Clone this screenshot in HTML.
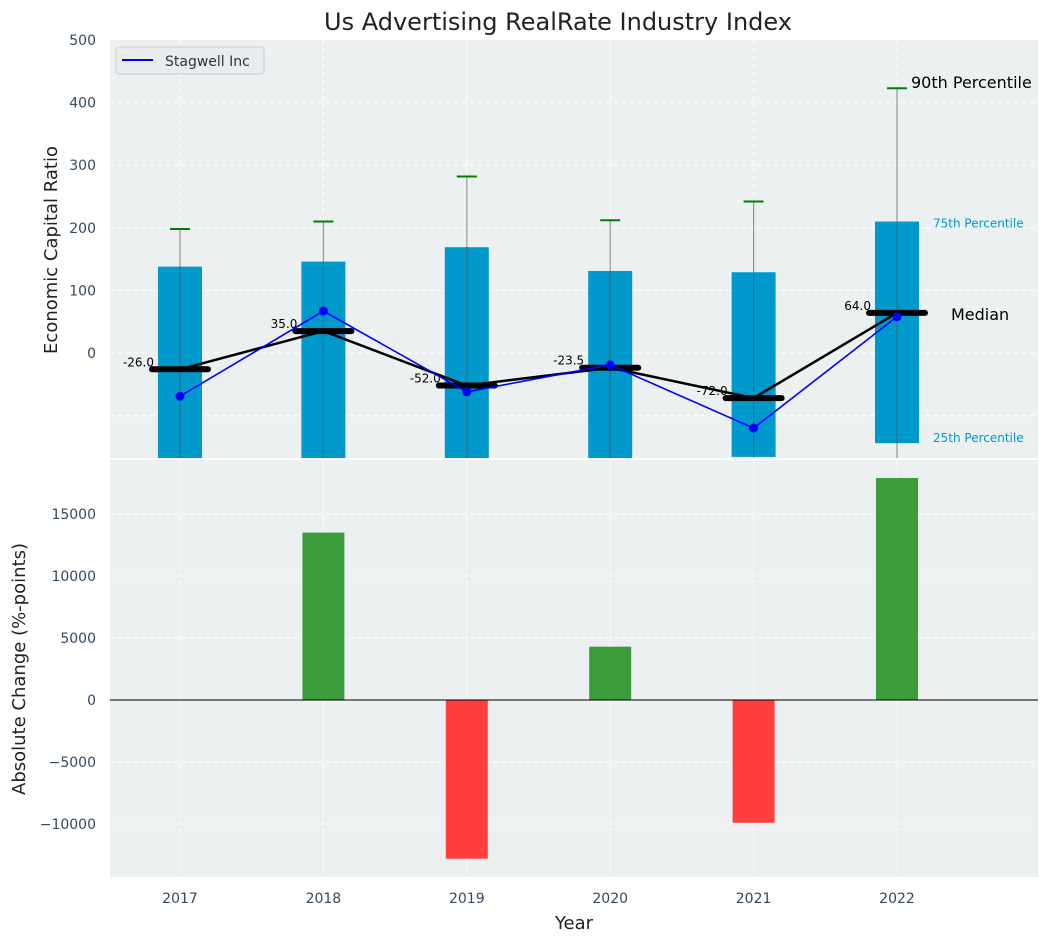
<!DOCTYPE html>
<html><head><meta charset="utf-8"><style>
body{margin:0;background:#fff;}
svg text{font-family:"DejaVu Sans","Liberation Sans",sans-serif;}
</style></head><body>
<svg id="chart" width="1048" height="942" xmlns="http://www.w3.org/2000/svg">
<text x="558" y="30" font-size="24" text-anchor="middle" fill="#222">Us Advertising RealRate Industry Index</text>
<g id="topg"></g>
<g id="botg"></g>
</svg>
<script>
const years = [2017, 2018, 2019, 2020, 2021, 2022];
const p25 = [-200, -200, -200, -200, -166, -144];
const p75 = [138, 146, 169, 131, 129, 210];
const p90 = [198, 210, 282, 212, 242, 423];
const p10 = [-250, -250, -250, -250, -250, -250];
const medians = [-26.0, 35.0, -52.0, -23.5, -72.0, 64.0];
const company = [-69, 67, -62, -19, -120, 58];
const changes = [0, 13500, -12800, 4300, -9900, 17900];
const topTicks = [0, 100, 200, 300, 400, 500];
const botTicks = [-10000, -5000, 0, 5000, 10000, 15000];

const NS = 'http://www.w3.org/2000/svg';
const L = 110, R = 1038;
const xs = v => 180 + (v - 2017) * 143.4;
const yT = v => 353 - v * 0.626;
const yB = v => 700 - v * 0.01240;
function mk(parent, tag, attrs, text) {
  const e = document.createElementNS(NS, tag);
  for (const k in attrs) e.setAttribute(k, attrs[k]);
  if (text !== undefined) e.textContent = text;
  parent.appendChild(e); return e;
}
const topG = document.getElementById('topg'), botG = document.getElementById('botg');
let bg1 = mk(topG, 'rect', {x: L, y: 40, width: R - L, height: 418, fill: '#ecf0f1'});


let bg2 = mk(botG, 'rect', {x: L, y: 460, width: R - L, height: 417, fill: '#ecf0f1'});


const defs = mk(topG, 'defs', {});
const cp = mk(defs, 'clipPath', {id: 'c1'}); mk(cp, 'rect', {x: L, y: 40, width: R - L, height: 418});
years.forEach(y => {
  [[topG, 40, 458], [botG, 460, 877]].forEach(([g, a, b]) => {
    let gl = mk(g, 'line', {x1: xs(y), x2: xs(y), y1: a, y2: b, stroke: '#fff', 'stroke-dasharray': '5,3', 'stroke-width': 1});
    
    
  });
});
[-100, 0, 100, 200, 300, 400].forEach(v => {
  let gl = mk(topG, 'line', {x1: L, x2: R, y1: yT(v), y2: yT(v), stroke: '#fff', 'stroke-dasharray': '5,3'});
  
  
});
topTicks.forEach(v => {
  let t = mk(topG, 'text', {x: 96, y: yT(v) + 5, 'font-size': 14, 'text-anchor': 'end', fill: '#34495e'}, String(v));
  
  
});
botTicks.forEach(v => {
  let gl = mk(botG, 'line', {x1: L, x2: R, y1: yB(v), y2: yB(v), stroke: '#fff', 'stroke-dasharray': '5,3'});
  
  
  let t = mk(botG, 'text', {x: 96, y: yB(v) + 5, 'font-size': 14, 'text-anchor': 'end', fill: '#34495e'}, v < 0 ? '\u2212' + Math.abs(v) : String(v));
  
  
});
const cg = mk(topG, 'g', {'clip-path': 'url(#c1)'});
years.forEach((y, i) => {
  const x = xs(y);
  let b = mk(cg, 'rect', {x: x - 22, y: yT(p75[i]), width: 44, height: yT(p25[i]) - yT(p75[i]), fill: '#0099cc'});
  
  
  let w = mk(cg, 'line', {x1: x, x2: x, y1: yT(p90[i]), y2: yT(p10[i]), stroke: '#555', 'stroke-opacity': 0.6, 'stroke-width': 1.2});
  
  
  let c = mk(cg, 'line', {x1: x - 10, x2: x + 10, y1: yT(p90[i]), y2: yT(p90[i]), stroke: 'green', 'stroke-width': 2});
  
  
});
let mline = mk(cg, 'polyline', {points: years.map((y, i) => xs(y) + ',' + yT(medians[i])).join(' '), fill: 'none', stroke: '#000', 'stroke-width': 2.5});


years.forEach((y, i) => {
  const x = xs(y);
  let m = mk(cg, 'line', {x1: x - 28, x2: x + 28, y1: yT(medians[i]), y2: yT(medians[i]), stroke: '#000', 'stroke-width': 6, 'stroke-linecap': 'round'});
  
  
  let t = mk(cg, 'text', {x: x - 26, y: yT(medians[i]) - 3, 'font-size': 12, 'text-anchor': 'end', fill: '#000'}, medians[i].toFixed(1));
  
  
});
let cl = mk(cg, 'polyline', {points: years.map((y, i) => xs(y) + ',' + yT(company[i])).join(' '), fill: 'none', stroke: 'blue', 'stroke-width': 1.6});


years.forEach((y, i) => {
  let d = mk(cg, 'circle', {cx: xs(y), cy: yT(company[i]), r: 4.5, fill: 'blue'});
  
  
});
const lx = xs(2022);
const ann = [[lx + 14, yT(p90[5]) - 1, '90th Percentile', 16, '#000'], [933, yT(p75[5]) + 5, '75th Percentile', 12, '#0099cc'],
  [951, yT(medians[5]) + 6, 'Median', 16, '#000'], [933, yT(p25[5]) - 2, '25th Percentile', 12, '#0099cc']];
ann.forEach(a => {
  let t = mk(topG, 'text', {x: a[0], y: a[1] + 1, 'font-size': a[3], fill: a[4]}, a[2]);
  
  
});
let lg = mk(topG, 'g', {});


mk(lg, 'rect', {x: 116, y: 47, width: 148, height: 27, rx: 3, fill: '#e8ecef', stroke: '#ccc'});
mk(lg, 'line', {x1: 122, x2: 153, y1: 60, y2: 60, stroke: 'blue', 'stroke-width': 2});
mk(lg, 'text', {x: 165, y: 66, 'font-size': 14, fill: '#333'}, 'Stagwell Inc');
years.forEach((y, i) => {
  const v = changes[i];
  let b = mk(botG, 'rect', {x: xs(y) - 21, y: Math.min(yB(v), yB(0)), width: 42, height: Math.abs(yB(v) - yB(0)), fill: v >= 0 ? '#3c9c3c' : '#ff3e3e'});
  
  
  let t = mk(botG, 'text', {x: xs(y), y: 903, 'font-size': 14, 'text-anchor': 'middle', fill: '#34495e'}, String(y));
  
  
});
let zl = mk(botG, 'line', {x1: L, x2: R, y1: yB(0), y2: yB(0), stroke: '#000', 'stroke-width': 1});


let xt = mk(botG, 'text', {x: 574, y: 929, 'font-size': 18, 'text-anchor': 'middle', fill: '#222'}, 'Year');


let y1 = mk(topG, 'text', {x: 0, y: 0, 'font-size': 18, 'text-anchor': 'middle', fill: '#222', transform: 'translate(57,250) rotate(-90)'}, 'Economic Capital Ratio');


let y2 = mk(botG, 'text', {x: 0, y: 0, 'font-size': 18, 'text-anchor': 'middle', fill: '#222', transform: 'translate(25,669) rotate(-90)'}, 'Absolute Change (%-points)');


</script>
</body></html>
